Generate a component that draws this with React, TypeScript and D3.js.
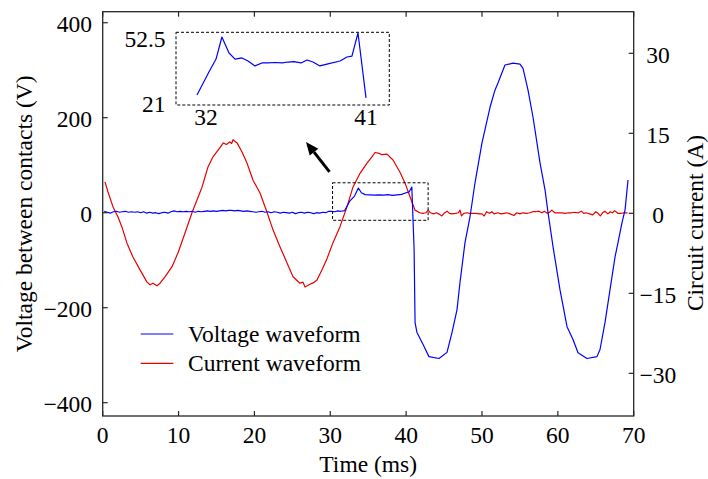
import React from "react";
import * as d3 from "d3";

// ---------- data ----------
const xTicks = [0, 10, 20, 30, 40, 50, 60, 70];
const yLeftTicks = [400, 200, 0, -200, -400];
const yRightTicks = [30, 15, 0, -15, -30];
const insetXTicks = [32, 41];
const insetYTicks = [52.5, 21];

// voltage waveform: [time ms, voltage V]
const voltage: [number, number][] = [
  [0.2, 3], [0.6, 1], [1.0, -1], [1.4, 2], [1.8, 3], [2.2, 1], [2.6, 2], [3.0, 3], [3.4, 1], [3.8, 2],
  [4.2, 1], [4.6, 2], [5.0, 0], [5.4, 2], [5.8, -1], [6.2, 1], [6.6, -1], [7.0, 0], [7.4, -2], [7.8, 0],
  [8.2, 1], [8.6, -1], [9.0, 2], [9.4, 4], [9.8, 2], [10.2, 3], [10.6, 2], [11.0, 3], [11.4, 2], [11.8, 3],
  [12.2, 1], [12.6, 3], [13.0, 2], [13.4, 3], [13.8, 4], [14.2, 3], [14.6, 4], [15.0, 3], [15.4, 4], [15.8, 5],
  [16.2, 4], [16.6, 5], [17.0, 5], [17.4, 4], [17.8, 5], [18.2, 4], [18.6, 3], [19.0, 4], [19.4, 3], [19.8, 2],
  [20.2, 1], [20.6, 2], [21.0, 3], [21.4, 1], [21.8, 2], [22.2, 0], [22.6, 2], [23.0, 1], [23.4, -1], [23.8, 1],
  [24.2, 0], [24.6, -1], [25.0, 1], [25.4, -2], [25.8, 0], [26.2, 1], [26.6, -1], [27.0, 1], [27.4, 0], [27.8, -2],
  [28.2, 0], [28.6, -1], [29.0, 1], [29.4, 0], [29.8, 3], [30.2, 3], [30.6, 2], [31.0, 4], [31.4, 3], [31.9, 4.5],
  [32.6, 25], [33.2, 35], [33.7, 52], [34.1, 42], [34.6, 38], [35.2, 37.5], [35.8, 37], [36.4, 37.5], [37.0, 37],
  [37.6, 38], [38.2, 36.5], [38.8, 37.5], [39.4, 38.5], [40.0, 42], [40.4, 44], [40.75, 54], [41.05, -76],
  [41.18, -232], [41.43, -252], [42.22, -277], [43.01, -303], [44.33, -307], [45.39, -294], [46.05, -252],
  [46.71, -204], [47.1, -147], [47.76, -63], [48.42, -9], [49.08, 63], [50.0, 147], [51.06, 222], [51.71, 258],
  [52.11, 273], [53.03, 311], [54.09, 315], [55.01, 313], [55.41, 304], [56.07, 258], [56.73, 201], [57.65, 105],
  [58.31, 48], [58.71, 0], [59.37, -72], [60.28, -162], [61.21, -240], [62.0, -267], [62.66, -295], [63.84, -307],
  [65.16, -303], [65.56, -288], [66.22, -231], [66.88, -162], [67.54, -93], [67.93, -63], [68.46, -21],
  [68.86, 6], [69.25, 69],
];

// current waveform: [time ms, current A]
const current: [number, number][] = [
  [0.3, 5.9], [0.7, 4.0], [1.36, 1.2], [2.02, -0.7], [2.54, -2.6], [3.2, -5.6], [3.99, -8.2], [4.92, -10.6],
  [5.84, -12.9], [6.24, -13.4], [6.63, -13.1], [7.16, -13.6], [7.55, -13.1], [8.21, -11.9], [9.14, -10.0],
  [9.93, -7.4], [10.85, -3.7], [11.77, 0.1], [12.43, 2.5], [13.09, 4.9], [13.49, 6.8], [13.88, 8.7],
  [14.54, 10.6], [15.46, 12.3], [15.9, 13.2], [16.3, 12.9], [16.78, 13.4], [17.0, 13.1], [17.18, 13.8],
  [17.71, 13.2], [18.37, 11.5], [19.03, 9.4], [19.82, 6.2], [20.74, 3.8], [21.66, 0.2], [22.45, -3.1],
  [23.38, -6.3], [24.3, -9.3], [25.09, -11.9], [26.0, -13.1], [26.4, -12.9], [26.67, -13.8], [27.33, -13.3],
  [27.8, -13.0], [28.25, -12.5], [28.91, -10.6], [29.57, -8.5], [30.36, -5.5], [31.28, -2.5], [32.2, 1.2],
  [32.99, 4.9], [33.92, 7.5], [34.84, 9.4], [35.5, 10.6], [35.9, 11.4], [36.29, 11.3], [36.8, 11.0],
  [37.48, 11.1], [38.27, 10.0], [39.19, 7.7], [39.85, 5.7], [40.51, 3.1], [41.17, 0.6], [41.8, 0.1],
  [42.2, 0.0], [42.6, 0.1], [42.9, 0.6], [43.2, 0.1], [43.6, -0.1], [44.0, 0.1], [44.4, -0.2], [44.7, -0.5],
  [45.0, 0.0], [45.4, 0.4], [45.7, 0.0], [46.0, -0.1], [46.5, 0.0], [46.9, 0.1], [47.1, 0.6], [47.3, -0.5],
  [47.6, 0.0], [48.0, 0.1], [48.4, 0.0], [48.8, 0.0], [49.2, 0.0], [49.6, -0.1], [50.0, -0.1], [50.3, -0.5],
  [50.6, 0.3], [51.0, 0.0], [51.3, 0.3], [51.6, -0.1], [52.1, 0.1], [52.5, -0.1], [52.9, 0.0], [53.3, 0.1],
  [53.7, -0.1], [54.2, -0.4], [54.6, 0.1], [55.0, -0.1], [55.4, 0.1], [55.9, 0.0], [56.3, 0.1], [56.7, 0.3],
  [57.1, 0.3], [57.5, 0.4], [57.9, 0.1], [58.2, 0.4], [58.6, 0.0], [58.9, 0.2], [59.2, 0.6], [59.6, 0.1],
  [60.0, 0.1], [60.5, 0.1], [61.0, 0.0], [61.4, 0.1], [61.8, 0.1], [62.2, 0.2], [62.7, 0.1], [63.1, 0.4],
  [63.4, 0.0], [63.7, 0.1], [64.2, -0.1], [64.6, -0.3], [65.0, 0.3], [65.3, 0.0], [65.6, -0.5], [65.9, 0.1],
  [66.2, 0.4], [66.6, -0.1], [66.9, 0.3], [67.2, 0.1], [67.5, 0.5], [67.9, 0.0], [68.3, 0.0], [68.7, 0.1],
  [69.2, 0.1],
];

// zoomed inset of the voltage plateau: [time ms, voltage V]
const insetVoltage: [number, number][] = [
  [31.5, 25.4], [32.17, 35.4], [32.57, 41.1], [32.9, 50.75], [33.3, 43.75], [33.64, 41.1], [34.03, 41.6],
  [34.37, 40.25], [34.76, 38.1], [35.15, 39.4], [35.49, 39.4], [35.88, 39.6], [36.28, 39.4], [36.62, 39.8],
  [36.95, 40.0], [37.35, 39.4], [37.68, 40.7], [38.02, 39.8], [38.41, 38.1], [38.86, 39.0], [39.54, 40.25],
  [39.93, 42], [40.21, 42.4], [40.55, 52.5], [41.0, 24.1],
];

// zoom region marked on the main plot
const zoomBoxTime = [30.3, 42.9];
const zoomBoxVoltage = [-16, 63];
// annotation arrow (tail -> head) in data units
const arrowTime = [29.9, 26.8];
const arrowVoltage = [86, 149];

const legendItems = [
  { label: "Voltage waveform", color: "#0000ff" },
  { label: "Current waveform", color: "#e60000" },
];

// ---------- layout ----------
const W = 708;
const H = 479;
const L = 102.7, R = 633.7, T = 11.7, B = 416;
const FONT = "'Liberation Serif', 'DejaVu Serif', serif";
const FS = 23.5;
const AX = "#262626";
const TS: React.CSSProperties = { fontFamily: FONT, fontSize: FS };

export default function App() {
  const x = d3.scaleLinear().domain([0, 70]).range([L, R]);
  const yL = d3.scaleLinear().domain([-428, 423.2]).range([B, T]);
  const yR = d3.scaleLinear().domain([-38, 37.8]).range([B, T]);

  const lineV = d3.line<[number, number]>().x((d) => x(d[0])).y((d) => yL(d[1]));
  const lineI = d3.line<[number, number]>().x((d) => x(d[0])).y((d) => yR(d[1]));

  // inset scales
  const ix = d3.scaleLinear().domain([31.5, 41]).range([197, 366]);
  const iy = d3.scaleLinear().domain([21, 52.5]).range([105, 33]);
  const lineInset = d3.line<[number, number]>().x((d) => ix(d[0])).y((d) => iy(d[1]));

  const tk = 5;

  // arrow
  const ax1 = x(arrowTime[0]), ay1 = yL(arrowVoltage[0]);
  const ax2 = x(arrowTime[1]), ay2 = yL(arrowVoltage[1]);
  const ang = Math.atan2(ay2 - ay1, ax2 - ax1);
  const hl = 13, hw = 5.5;
  const bx = ax2 - hl * Math.cos(ang), by = ay2 - hl * Math.sin(ang);
  const head = [
    [ax2, ay2],
    [bx + hw * Math.sin(ang), by - hw * Math.cos(ang)],
    [bx - hw * Math.sin(ang), by + hw * Math.cos(ang)],
  ];

  return (
    <svg
      width={W}
      height={H}
      viewBox={`0 0 ${W} ${H}`}
      style={{ position: "absolute", left: 0, top: 0, background: "#fff", fontFamily: FONT }}
    >
      <rect x={0} y={0} width={W} height={H} fill="#fff" />
      <defs>
        <clipPath id="plotclip">
          <rect x={L} y={T} width={R - L} height={B - T} />
        </clipPath>
      </defs>

      {/* data lines */}
      <g clipPath="url(#plotclip)" fill="none" strokeLinejoin="round">
        <path d={lineI(current) || ""} stroke="#e60000" strokeWidth={1.2} />
        <path d={lineV(voltage) || ""} stroke="#0000ff" strokeWidth={1.2} />
      </g>

      {/* zoom box on main plot */}
      <rect
        x={x(zoomBoxTime[0])}
        y={yL(zoomBoxVoltage[1])}
        width={x(zoomBoxTime[1]) - x(zoomBoxTime[0])}
        height={yL(zoomBoxVoltage[0]) - yL(zoomBoxVoltage[1])}
        fill="none"
        stroke="#000"
        strokeWidth={1}
        strokeDasharray="3,2"
      />

      {/* arrow */}
      <line x1={ax1} y1={ay1} x2={bx} y2={by} stroke="#000" strokeWidth={3} />
      <polygon points={head.map((p) => p.join(",")).join(" ")} fill="#000" />

      {/* inset */}
      <rect x={176} y={32.3} width={213.3} height={72.7} fill="#fff" stroke="#000" strokeWidth={1} strokeDasharray="3,2" />
      <path d={lineInset(insetVoltage) || ""} fill="none" stroke="#0000ff" strokeWidth={1.2} strokeLinejoin="round" />
      {insetYTicks.map((v, i) => (
        <text key={"iy" + v} style={TS} x={165.5} y={i === 0 ? iy(v) + 14 : iy(v) + 7} textAnchor="end">
          {String(v)}
        </text>
      ))}
      {insetXTicks.map((v) => (
        <text key={"ix" + v} style={TS} x={ix(v)} y={125} textAnchor="middle">
          {String(v)}
        </text>
      ))}

      {/* frame */}
      <rect x={L} y={T} width={R - L} height={B - T} fill="none" stroke={AX} strokeWidth={1.3} />

      {/* x ticks */}
      {xTicks.map((t) => (
        <g key={"x" + t}>
          <line x1={x(t)} x2={x(t)} y1={B} y2={B - tk} stroke={AX} strokeWidth={1.2} />
          <line x1={x(t)} x2={x(t)} y1={T} y2={T + tk} stroke={AX} strokeWidth={1.2} />
          <text style={TS} x={x(t)} y={443} textAnchor="middle">
            {String(t)}
          </text>
        </g>
      ))}

      {/* left ticks */}
      {yLeftTicks.map((v) => (
        <g key={"yl" + v}>
          <line x1={L} x2={L + tk} y1={yL(v)} y2={yL(v)} stroke={AX} strokeWidth={1.2} />
          <text style={TS} x={92} y={yL(v) + 9.5} textAnchor="end">
            {v < 0 ? "\u2212" + Math.abs(v) : String(v)}
          </text>
        </g>
      ))}

      {/* right ticks */}
      {yRightTicks.map((v) => (
        <g key={"yr" + v}>
          <line x1={R} x2={R - tk} y1={yR(v)} y2={yR(v)} stroke={AX} strokeWidth={1.2} />
          <text style={TS} x={658} y={yR(v) + 9.8} textAnchor="middle">
            {v < 0 ? "\u2212" + Math.abs(v) : String(v)}
          </text>
        </g>
      ))}

      {/* axis titles */}
      <text style={TS} x={(L + R) / 2} y={472} textAnchor="middle">
        Time (ms)
      </text>
      <text style={TS} transform={`translate(31.5, ${(T + B) / 2}) rotate(-90)`} textAnchor="middle">
        Voltage between contacts (V)
      </text>
      <text style={TS} transform={`translate(703, 223) rotate(-90)`} textAnchor="middle">
        Circuit current (A)
      </text>

      {/* legend */}
      {legendItems.map((it, i) => (
        <g key={it.label}>
          <line x1={140.7} x2={173.3} y1={334 + i * 29.3} y2={334 + i * 29.3} stroke={it.color} strokeWidth={1.2} />
          <text style={TS} x={188} y={341.5 + i * 29.3}>
            {it.label}
          </text>
        </g>
      ))}
    </svg>
  );
}
